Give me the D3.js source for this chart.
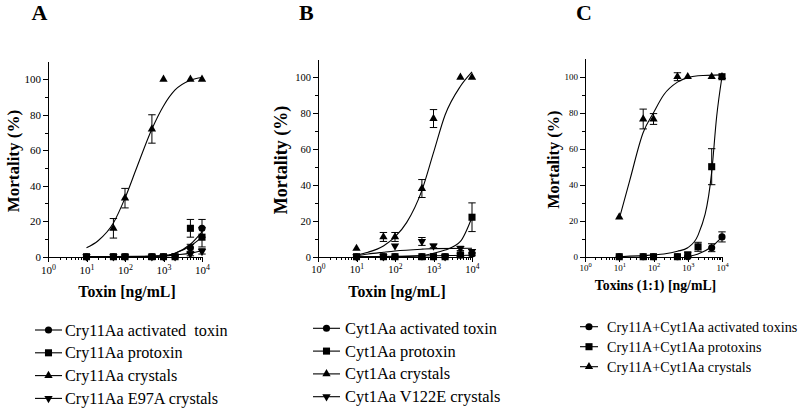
<!DOCTYPE html>
<html lang="en">
<head>
<meta charset="UTF-8">
<title>Mosquito larvae mortality vs toxin dose</title>
<script src="https://d3js.org/d3.v7.min.js"></script>
<style>
  body { margin: 0; background: #fff; }
  svg { display: block; }
  text { font-family: "Liberation Serif", "Times New Roman", serif; fill: #000; }
  .axis path, .axis line { stroke: #000; stroke-width: 1; shape-rendering: crispEdges; }
</style>
</head>
<body>
<div id="chart"></div>
<script>
// doses tested (ng/mL), shared by every series
const doses = [10, 50, 100, 500, 1000, 2000, 5000, 10000];
const yTickValues = [0, 20, 40, 60, 80, 100];
const xTickValues = [1, 10, 100, 1000, 10000];

// Panel A - Cry11Aa
const legendA = ["Cry11Aa activated  toxin", "Cry11Aa protoxin", "Cry11Aa crystals", "Cry11Aa E97A crystals"];
const aActivated = [0, 0, 0, 0, 0, 0, 5, 16];
const aActivatedErr = [0, 0, 0, 0, 0, 0, 2, 5];
const aProtoxin = [0, 0, 0, 0, 0, 0, 16, 11];
const aProtoxinErr = [0, 0, 0, 0, 0, 0, 5, 5.5];
const aCrystals = [null, 16, 33, 72, 100, null, 100, 100];
const aCrystalsErr = [0, 5.5, 5.5, 8, 0, 0, 0, 0];
const aE97A = [0, 0, 0, 0, 0, 0, 1.5, 3];
const aE97AErr = [0, 0, 0, 0, 0, 0, 1, 1.5];
const aActivatedFit = [[10, 0], [100, 0], [1000, 0.5], [2000, 2], [5000, 7], [10000, 14]];
const aProtoxinFit = [[10, 0], [100, 0], [1000, 0.5], [2000, 2], [5000, 6], [10000, 11]];
const aCrystalsFit = [[10, 5], [20, 9], [50, 19], [100, 33], [200, 50], [500, 72], [1000, 85], [2000, 94], [5000, 99.5], [10000, 101]];
const aE97AFit = [[10, 0], [1000, 0.3], [2000, 1], [5000, 2], [10000, 3.5]];

// Panel B - Cyt1Aa
const legendB = ["Cyt1Aa activated toxin", "Cyt1Aa protoxin", "Cyt1Aa crystals", "Cyt1Aa V122E crystals"];
const bActivated = [0, 0, 0, 0, 0, 0, 1, 1.5];
const bActivatedErr = [0, 0, 0, 0, 0, 0, 1, 1];
const bProtoxin = [0, 0, 0, 0, 0, 0, 1, 22];
const bProtoxinErr = [0, 0, 0, 0, 0, 0, 1, 8];
const bCrystals = [4.6, 11, 11, 38, 77, null, 100, 100];
const bCrystalsErr = [0, 2.5, 2.5, 5, 5, 0, 0, 0];
const bV122E = [0, 0, 6, 8.5, 6, 0, 4.6, 3];
const bV122EErr = [0, 0, 0, 2.2, 1, 0, 1.2, 1];
const bActivatedFit = [[10, 0], [10000, 0.8]];
const bProtoxinFit = [[10, 0], [100, 0], [500, 0.6], [1000, 1.9], [2000, 3.7], [5000, 8.5], [10000, 22]];
const bCrystalsFit = [[10, 1], [20, 2.5], [50, 6], [100, 11], [200, 19], [500, 37], [1000, 58], [2000, 79], [5000, 95], [10000, 103]];
const bV122EFit = [[10, 0.5], [20, 1.5], [50, 2.5], [100, 3.2], [500, 4.2], [1000, 4.5], [10000, 4.7]];

// Panel C - Cry11Aa + Cyt1Aa (1:1)
const legendC = ["Cry11A+Cyt1Aa activated toxins", "Cry11A+Cyt1Aa protoxins", "Cry11A+Cyt1Aa crystals"];
const cActivated = [0, 0, 0, 0, 0, null, 5, 11];
const cActivatedErr = [0, 0, 0, 0, 0, 0, 2.2, 2.8];
const cProtoxin = [0, 0, 0, 0, 1, 5.5, 50, 100];
const cProtoxinErr = [0, 0, 0, 0, 1.5, 2.5, 10, 0];
const cCrystals = [22, 76.5, 76.5, 100, 100, null, 100, 100];
const cCrystalsErr = [0, 5.5, 3, 2.2, 0, 0, 0, 0];
const cActivatedFit = [[1000, 0], [2000, 1.5], [5000, 5.5], [10000, 11]];
const cProtoxinFit = [[10, 0], [100, 1], [200, 1.5], [500, 3], [1000, 5], [2000, 12], [5000, 47], [7000, 78], [10000, 100]];
const cCrystalsFit = [[10, 21], [20, 42], [50, 69], [100, 80], [200, 90], [500, 97], [1000, 99.5], [2000, 100.5], [10000, 101]];

const symbols = [d3.symbolCircle, d3.symbolSquare, d3.symbolTriangle, d3.symbolTriangle];
const symbolSizes = [40, 50, 30, 30];

const svg = d3.select("#chart").append("svg")
  .attr("width", 800)
  .attr("height", 408);

// panel layout (positions only)
const panels = [
  {
    letter: "A", letterX: 31.5, x0: 48, x1: 202, y0: 256.7, y100: 79.3,
    yTitleX: 13, yTitleSize: 17, tickSize: 11, xTitle: "Toxin [ng/mL]", xTitleSize: 15.8, xTitleY: 297,
    legend: legendA, legendLineX: [35, 62], legendTextX: 65, legendY: 330, legendStep: 22.8, legendSize: 16.2,
    series: [
      { v: aActivated, e: aActivatedErr, fit: aActivatedFit },
      { v: aProtoxin, e: aProtoxinErr, fit: aProtoxinFit },
      { v: aCrystals, e: aCrystalsErr, fit: aCrystalsFit },
      { v: aE97A, e: aE97AErr, fit: aE97AFit }
    ]
  },
  {
    letter: "B", letterX: 299, x0: 318, x1: 472, y0: 256.7, y100: 77.3,
    yTitleX: 281, yTitleSize: 18, tickSize: 10.5, xTitle: "Toxin [ng/mL]", xTitleSize: 15.8, xTitleY: 297,
    legend: legendB, legendLineX: [313, 340], legendTextX: 345, legendY: 328.3, legendStep: 22.8, legendSize: 16.4,
    series: [
      { v: bActivated, e: bActivatedErr, fit: bActivatedFit },
      { v: bProtoxin, e: bProtoxinErr, fit: bProtoxinFit },
      { v: bCrystals, e: bCrystalsErr, fit: bCrystalsFit },
      { v: bV122E, e: bV122EErr, fit: bV122EFit }
    ]
  },
  {
    letter: "C", letterX: 576, x0: 585, x1: 722, y0: 256.7, y100: 76.7,
    yTitleX: 553, yTitleSize: 16.3, tickSize: 9, xTitle: "Toxins (1:1) [ng/mL]", xTitleSize: 13.8, xTitleY: 290,
    legend: legendC, legendLineX: [580, 598], legendTextX: 607, legendY: 326.7, legendStep: 20, legendSize: 14.2,
    series: [
      { v: cActivated, e: cActivatedErr, fit: cActivatedFit },
      { v: cProtoxin, e: cProtoxinErr, fit: cProtoxinFit },
      { v: cCrystals, e: cCrystalsErr, fit: cCrystalsFit }
    ]
  }
];

function markerPath(i) {
  return d3.symbol().type(symbols[i]).size(symbolSizes[i])();
}
function markerTransform(i, px, py) {
  // series 3 is the inverted triangle
  return i === 3 ? `translate(${px},${py}) rotate(180)` : `translate(${px},${py})`;
}

function drawPanel(p) {
  const x = d3.scaleLog().domain([1, 10000]).range([p.x0, p.x1]);
  const y = d3.scaleLinear().domain([0, 110]).range([p.y0, p.y0 - 1.1 * (p.y0 - p.y100)]);
  const g = svg.append("g");

  // panel letter
  g.append("text")
    .attr("x", p.letterX).attr("y", 20)
    .attr("font-size", 22).attr("font-weight", "bold")
    .text(p.letter);

  // x axis: minor log ticks then labelled decades
  const xMinor = [];
  for (let e = 0; e < 4; e++) for (let k = 2; k < 10; k++) xMinor.push(k * Math.pow(10, e));
  g.append("g").attr("class", "axis")
    .attr("transform", `translate(0,${p.y0})`)
    .call(d3.axisBottom(x).tickValues(xMinor).tickSize(3).tickSizeOuter(0).tickFormat(""));
  const xAx = g.append("g").attr("class", "axis")
    .attr("transform", `translate(0,${p.y0})`)
    .call(d3.axisBottom(x).tickValues(xTickValues).tickSize(5).tickSizeOuter(0).tickFormat(""));
  xAx.selectAll(".tick text")
    .attr("y", 0).attr("dy", null)
    .attr("font-size", p.tickSize)
    .attr("font-family", "Liberation Serif")
    .each(function (d) {
      const t = d3.select(this).attr("y", p.tickSize * 1.6);
      t.append("tspan").text("10");
      t.append("tspan").attr("dy", -p.tickSize * 0.4).attr("font-size", p.tickSize * 0.72).text(Math.round(Math.log10(d)));
    });

  // y axis
  g.append("g").attr("class", "axis")
    .attr("transform", `translate(${p.x0},0)`)
    .call(d3.axisLeft(y).tickValues([10, 30, 50, 70, 90]).tickSize(3).tickSizeOuter(0).tickFormat(""));
  g.append("g").attr("class", "axis")
    .attr("transform", `translate(${p.x0},0)`)
    .call(d3.axisLeft(y).tickValues(yTickValues).tickSize(5).tickPadding(2).tickSizeOuter(0))
    .selectAll("text")
    .attr("font-size", p.tickSize)
    .attr("font-family", "Liberation Serif");

  // axis titles
  g.append("text")
    .attr("transform", `translate(${p.yTitleX},${(y(0) + y(110)) / 2 + 2}) rotate(-90)`)
    .attr("text-anchor", "middle").attr("dominant-baseline", "central")
    .attr("font-size", p.yTitleSize).attr("font-weight", "bold")
    .text("Mortality (%)");
  g.append("text")
    .attr("x", (p.x0 + p.x1) / 2 + 2).attr("y", p.xTitleY)
    .attr("text-anchor", "middle")
    .attr("font-size", p.xTitleSize).attr("font-weight", "bold")
    .text(p.xTitle);

  // fitted curves
  const line = d3.line()
    .x(d => x(d[0]))
    .y(d => y(d[1]))
    .curve(d3.curveMonotoneX);
  p.series.forEach(s => {
    g.append("path")
      .attr("d", line(s.fit))
      .attr("fill", "none").attr("stroke", "#000").attr("stroke-width", 1.1);
  });

  // error bars and markers; crystals first so the others sit on top
  const order = [2, 3, 1, 0].filter(i => i < p.series.length);
  order.forEach(i => {
    const s = p.series[i];
    const pts = doses.map((d, j) => ({ d: d, v: s.v[j], e: s.e[j] })).filter(o => o.v !== null);
    const eb = g.append("g").attr("stroke", "#000").attr("stroke-width", 1);
    pts.filter(o => o.e > 0).forEach(o => {
      const cx = x(o.d);
      eb.append("line").attr("x1", cx).attr("x2", cx).attr("y1", y(o.v - o.e)).attr("y2", y(o.v + o.e));
      eb.append("line").attr("x1", cx - 3.7).attr("x2", cx + 3.7).attr("y1", y(o.v + o.e)).attr("y2", y(o.v + o.e));
      eb.append("line").attr("x1", cx - 3.7).attr("x2", cx + 3.7).attr("y1", y(Math.max(0, o.v - o.e))).attr("y2", y(Math.max(0, o.v - o.e)));
    });
    g.append("g").selectAll("path")
      .data(pts)
      .enter()
      .append("path")
      .attr("d", markerPath(i))
      .attr("transform", o => markerTransform(i, x(o.d), y(o.v)))
      .attr("fill", "#000");
  });

  // legend
  const lg = g.append("g");
  p.legend.forEach((label, i) => {
    const ly = p.legendY + i * p.legendStep;
    lg.append("line")
      .attr("x1", p.legendLineX[0]).attr("x2", p.legendLineX[1])
      .attr("y1", ly).attr("y2", ly)
      .attr("stroke", "#000").attr("stroke-width", 1.1);
    lg.append("path")
      .attr("d", markerPath(i))
      .attr("transform", markerTransform(i, (p.legendLineX[0] + p.legendLineX[1]) / 2, ly))
      .attr("fill", "#000");
    lg.append("text")
      .attr("x", p.legendTextX).attr("y", ly).attr("dy", "0.34em")
      .attr("font-size", p.legendSize)
      .style("white-space", "pre")
      .text(label);
  });
}

panels.forEach(drawPanel);
</script>
</body>
</html>
